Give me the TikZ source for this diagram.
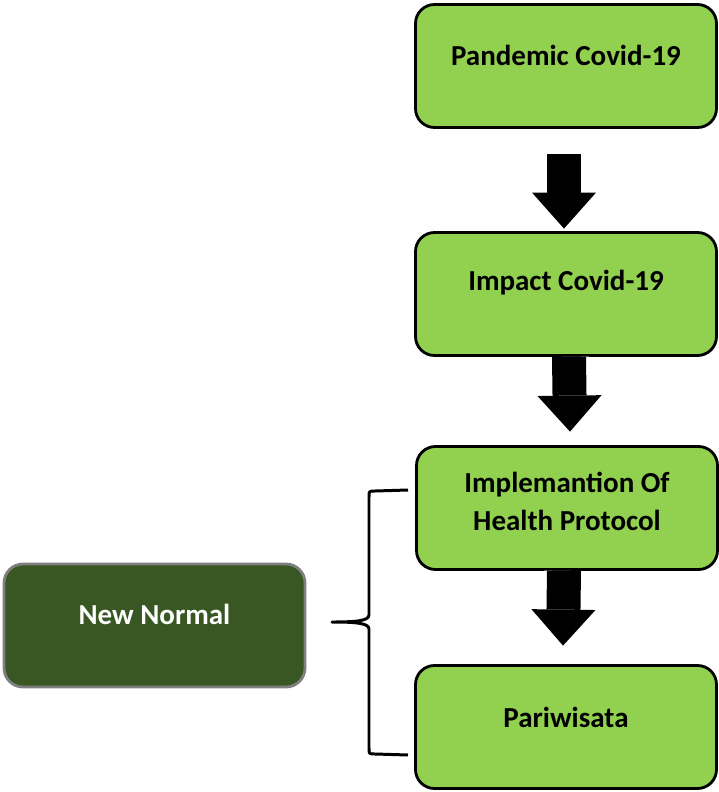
\documentclass[tikz,border=0pt]{standalone}
\usepackage{fontspec}
\setmainfont{Carlito}
\usetikzlibrary{arrows.meta,positioning,calc}
\definecolor{leaf}{HTML}{92D050}
\definecolor{moss}{HTML}{385723}
\definecolor{rim}{HTML}{7F7F7F}

\begin{document}
\begin{tikzpicture}[
    stage/.style={rectangle, draw=black, line width=1.6pt, rounded corners=0.38cm,
                  fill=leaf, minimum width=6.02cm, minimum height=2.46cm},
    umbrella/.style={stage, draw=rim, fill=moss},
    caption/.style={font=\bfseries\fontsize{16.5}{21.6}\selectfont, align=center, text=black},
    flow/.style={line width=0.68cm, -{Triangle[width=1.28cm,length=0.72cm,line width=0pt]},
                 preaction={draw=white, line width=0.80cm, -, shorten >=0.72cm}},
    brace/.style={line width=1.7pt, line join=round}
]
\useasboundingbox (0,0) rectangle (14.38,-15.84);

% Main chain
\node[stage] (pandemic) at (11.32,-1.32) {};
\node[stage] (impact) at (11.32,-5.88) {};
\node[stage] (health) at (11.34,-10.16) {};
\node[stage] (tourism) at (11.32,-14.54) {};

\node[caption] (pandemic-text) at ([yshift=0.22cm]pandemic.center) {Pandemic Covid-19};
\node[caption] (impact-text) at ([yshift=0.22cm]impact.center) {Impact Covid-19};
\node[caption] (health-text) at ([yshift=0.14cm]health.center) {Implemantion Of\\Health Protocol};
\node[caption] (tourism-text) at ([yshift=0.20cm]tourism.center) {Pariwisata};

% Umbrella term
\node[umbrella] (newnormal) at (3.09,-12.51) {};
\node[caption, text=white] (newnormal-text) at ([yshift=0.23cm]newnormal.center) {New Normal};

% Block arrows
\draw[flow] ([xshift=-0.04cm,yshift=-0.51cm]pandemic.south) -- ([xshift=-0.04cm,yshift=0.05cm]impact.north);
\draw[flow] ([xshift=0.06cm]impact.south) -- ([xshift=0.06cm,yshift=0.27cm]health.north);
\draw[flow] ([xshift=-0.06cm]health.south) -- ([xshift=-0.06cm,yshift=0.37cm]tourism.north);

% Brace
\coordinate (brace-top) at (8.16,-9.80);
\coordinate (brace-tip) at (6.64,-12.44);
\coordinate (brace-bottom) at (8.16,-15.10);
\draw[brace] (brace-top) -- (7.50,-9.82) .. controls (7.38,-9.82) .. (7.38,-9.94)
    -- (7.38,-12.30) .. controls (7.38,-12.42) and (7.10,-12.44) .. (brace-tip)
    .. controls (7.10,-12.44) and (7.38,-12.46) .. (7.38,-12.58)
    -- (7.38,-14.96) .. controls (7.38,-15.08) .. (7.50,-15.08) -- (brace-bottom);

\end{tikzpicture}
\end{document}
